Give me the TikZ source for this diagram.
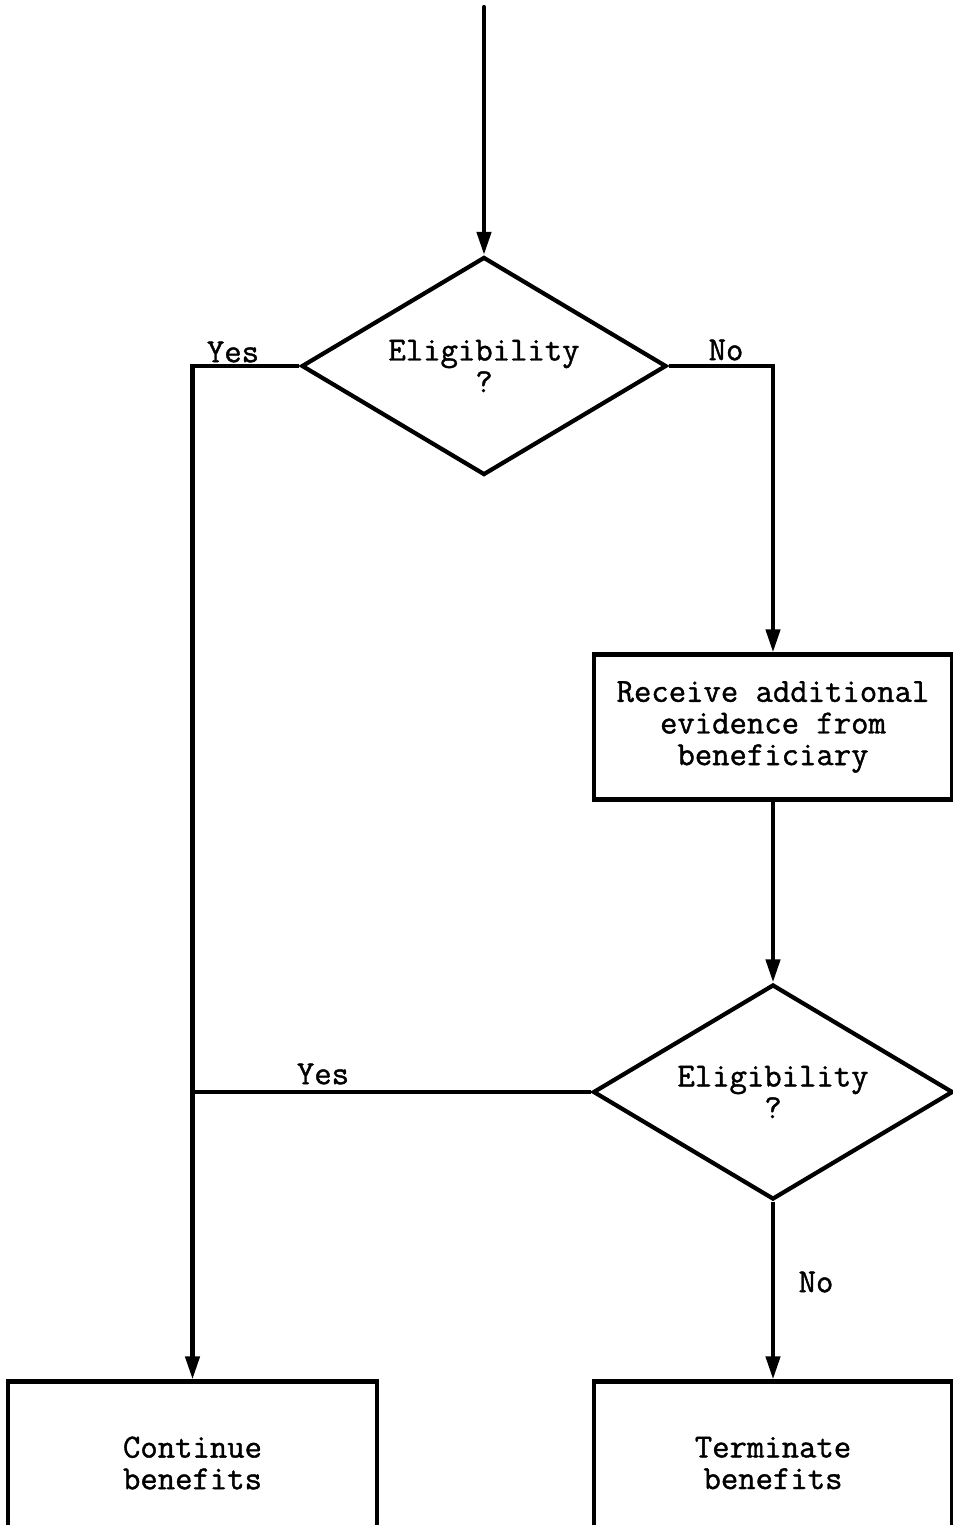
\documentclass[tikz,border=0pt]{standalone}
\usepackage{fontspec}
\newfontfamily\typew{Latin Modern Mono}[FakeBold=1.2]
\usetikzlibrary{shapes.geometric,arrows.meta}
\tikzset{
  txt/.style={font={\typew\fontsize{19.2}{18}\selectfont}, align=center, text=black},
  dec/.style={draw, line width=2.4pt, diamond, aspect=1.674, inner sep=0pt, txt},
  proc/.style={draw, line width=2.4pt, rectangle, inner sep=0pt, txt},
  conn/.style={line width=2.4pt},
  arr/.style={conn, -{Triangle[length=0.46cm,width=0.28cm]}},
  lbl/.style={txt, inner sep=0pt}
}
\begin{document}
\begin{tikzpicture}[x=0.02cm,y=-0.02cm]
\useasboundingbox (0,0) rectangle (953,1525);
\clip (0,0) rectangle (953,1525);
\fill[white] (0,0) rectangle (953,1525);
\coordinate (start) at (484,7);
\node[dec, minimum width=7.30cm, minimum height=4.36cm] (d1) at (484,366) {Eligibility\\?};
\node[proc, minimum width=7.16cm, minimum height=2.90cm] (recv) at (773,727) {Receive additional\\evidence from\\beneficiary};
\node[dec, minimum width=7.20cm, minimum height=4.30cm] (d2) at (773,1092) {Eligibility\\?};
\node[proc, minimum width=7.38cm, minimum height=3.26cm] (cont) at (192.5,1463) {Continue\\benefits};
\node[proc, minimum width=7.16cm, minimum height=3.26cm] (term) at (773,1463) {Terminate\\benefits};
\draw[conn, line cap=round] (start) -- ([yshift=0.2cm]d1.north);
\draw[arr] (start) -- (d1.north);
\draw[arr] (d1.west) -| (cont.north);
\draw[arr] (d1.east) -| (recv.north);
\draw[arr] (recv.south) -- (d2.north);
\draw[conn] (d2.west) -- (d2.west -| cont.north);
\draw[arr] (d2.south) -- (term.north);
\node[lbl] (y1) at (233,352) {Yes};
\node[lbl] (n1) at (726,350) {No};
\node[lbl] (y2) at (323,1074) {Yes};
\node[lbl] (n2) at (816,1282) {No};
\end{tikzpicture}
\end{document}
